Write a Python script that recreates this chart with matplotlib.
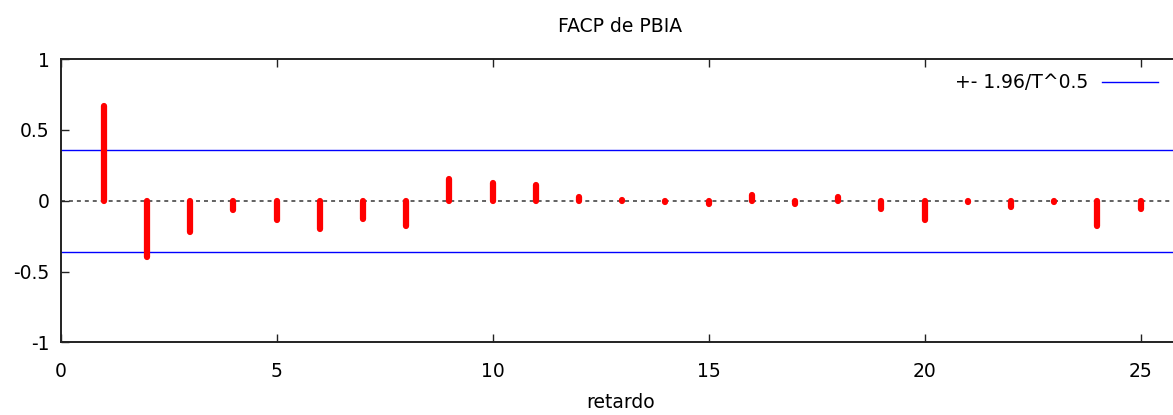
import matplotlib
matplotlib.use("Agg")
import matplotlib.pyplot as plt

# partial autocorrelations
lags = list(range(1, 26))
facp = [0.667, -0.394, -0.222, -0.066, -0.139, -0.200, -0.130, -0.180,
        0.155, 0.123, 0.111, 0.028, 0.006, -0.006, -0.024, 0.042,
        -0.022, 0.026, -0.061, -0.139, -0.012, -0.042, -0.010, -0.180,
        -0.061]
band = 0.358  # 1.96/T^0.5

xticks = [0, 5, 10, 15, 20, 25]
yticks = [-1, -0.5, 0, 0.5, 1]
yticklabels = ["-1", "-0.5", "0", "0.5", "1"]

fs = 13.5
plt.rcParams['font.family'] = ['DejaVu Sans']
plt.rcParams['font.size'] = fs

fig = plt.figure(figsize=(11.73, 4.15), dpi=100)
ax = fig.add_axes([0.0516, 0.1747, 0.9484, 0.6831])

ax.axhline(0, color="#555555", lw=1.3, ls=(0, (2.2, 2.2)), zorder=1)
ax.axhline(band, color="blue", lw=1.0, label="+- 1.96/T^0.5", zorder=2)
ax.axhline(-band, color="blue", lw=1.0, zorder=2)
for lag, v in zip(lags, facp):
    ax.plot([lag, lag], [0, v], color="red", lw=4.5,
            solid_capstyle="round", zorder=3)

ax.set_xlim(0, 25.75)
ax.set_ylim(-1, 1)
ax.set_xticks(xticks)
ax.set_yticks(yticks)
ax.set_yticklabels(yticklabels)

ax.spines["right"].set_visible(False)
for s in ["left", "bottom", "top"]:
    ax.spines[s].set_linewidth(1.4)
    ax.spines[s].set_color("#222222")

ax.tick_params(axis="both", direction="in", length=6, width=1, color="#222222",
               top=True, labelsize=fs)
ax.tick_params(axis="x", pad=14)
ax.tick_params(axis="y", pad=8)

leg = ax.legend(loc="upper right", bbox_to_anchor=(0.9865, 0.95),
                frameon=False, markerfirst=False, handlelength=3.0,
                handletextpad=0.7, borderpad=0, borderaxespad=0, fontsize=fs)

fig.text(0.529, 0.935, "FACP de PBIA", ha="center", va="center", fontsize=fs)
fig.text(0.529, 0.029, "retardo", ha="center", va="center", fontsize=fs)

fig.savefig("out.png", dpi=100)
